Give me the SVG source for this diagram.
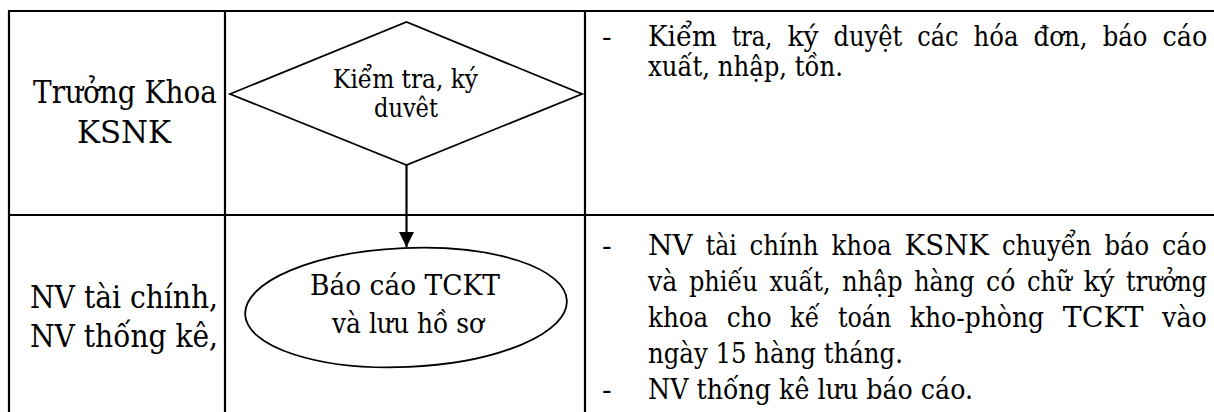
<svg xmlns="http://www.w3.org/2000/svg" width="1214" height="412" viewBox="0 0 1214 412">
<style>
.grid{stroke:#000;stroke-width:2.2;fill:none}
.shape{stroke:#000;stroke-width:1.8;fill:#fff}
text{font-family:'DejaVu Serif','Liberation Serif','Times New Roman',serif;fill:#000}
.lane{font-size:31px}
.node{font-size:26.5px}
.node2{font-size:28.5px}
.desc{font-size:28.5px}
</style>
<defs>
<marker id="arr" markerWidth="16" markerHeight="15" refX="15" refY="7.5" orient="auto" markerUnits="userSpaceOnUse">
<path d="M0,0 L15,7.5 L0,15 Z" fill="#000"/>
</marker>
</defs>
<rect width="1214" height="412" fill="#fff"/>
<g id="table">
<line class="grid" x1="8" y1="11" x2="1214" y2="11"/>
<line class="grid" x1="8" y1="215" x2="1214" y2="215"/>
<line class="grid" x1="9" y1="10" x2="9" y2="412"/>
<line class="grid" x1="225" y1="10" x2="225" y2="412"/>
<line class="grid" x1="585" y1="10" x2="585" y2="412"/>
</g>
<g id="lane1">
<text class="lane" x="125" y="103" text-anchor="middle" textLength="184" lengthAdjust="spacingAndGlyphs">Trưởng Khoa</text>
<text class="lane" x="124" y="143" text-anchor="middle" textLength="94" lengthAdjust="spacingAndGlyphs">KSNK</text>
</g>
<g id="lane2">
<text class="lane" x="30" y="308" textLength="188" lengthAdjust="spacingAndGlyphs">NV tài chính,</text>
<text class="lane" x="30" y="347" textLength="188" lengthAdjust="spacingAndGlyphs">NV thống kê,</text>
</g>
<g id="connectors">
<line x1="406.5" y1="165" x2="406.5" y2="247" stroke="#000" stroke-width="2.2" marker-end="url(#arr)"/>
</g>
<g id="node-kiemtra">
<polygon class="shape" points="230,94 406.5,22 582,94 406.5,165"/>
<text class="node" x="405.5" y="88" text-anchor="middle" textLength="145" lengthAdjust="spacingAndGlyphs">Kiểm tra, ký</text>
<text class="node" x="406" y="117" text-anchor="middle" textLength="64" lengthAdjust="spacingAndGlyphs">duvêt</text>
</g>
<g id="node-baocao">
<ellipse class="shape" cx="406" cy="307.5" rx="161" ry="59.5" transform="rotate(-2.5 406 307.5)"/>
<text class="node2" x="405" y="295" text-anchor="middle" textLength="190" lengthAdjust="spacingAndGlyphs">Báo cáo TCKT</text>
<text class="node2" x="408" y="333" text-anchor="middle" textLength="152" lengthAdjust="spacingAndGlyphs">và lưu hồ sơ</text>
</g>
<g id="desc1">
<text class="desc" x="602" y="46">-</text>
<text class="desc" y="46"><tspan x="648" textLength="68.9" lengthAdjust="spacingAndGlyphs">Kiểm</tspan><tspan x="731.9" textLength="40.5" lengthAdjust="spacingAndGlyphs">tra,</tspan><tspan x="787.4" textLength="31" lengthAdjust="spacingAndGlyphs">ký</tspan><tspan x="833.4" textLength="68.9" lengthAdjust="spacingAndGlyphs">duyệt</tspan><tspan x="917.3" textLength="41.3" lengthAdjust="spacingAndGlyphs">các</tspan><tspan x="973.6" textLength="44.8" lengthAdjust="spacingAndGlyphs">hóa</tspan><tspan x="1033.4" textLength="54.3" lengthAdjust="spacingAndGlyphs">đơn,</tspan><tspan x="1102.7" textLength="44.8" lengthAdjust="spacingAndGlyphs">báo</tspan><tspan x="1162.5" textLength="44.8" lengthAdjust="spacingAndGlyphs">cáo</tspan></text>
<text class="desc" x="648" y="76" textLength="195" lengthAdjust="spacingAndGlyphs">xuất, nhập, tồn.</text>
</g>
<g id="desc2">
<text class="desc" x="602" y="255">-</text>
<text class="desc" y="255"><tspan x="648" textLength="44.8" lengthAdjust="spacingAndGlyphs">NV</tspan><tspan x="705.7" textLength="31" lengthAdjust="spacingAndGlyphs">tài</tspan><tspan x="749.6" textLength="68.9" lengthAdjust="spacingAndGlyphs">chính</tspan><tspan x="831.4" textLength="60.3" lengthAdjust="spacingAndGlyphs">khoa</tspan><tspan x="904.6" textLength="84.4" lengthAdjust="spacingAndGlyphs">KSNK</tspan><tspan x="1001.9" textLength="89.5" lengthAdjust="spacingAndGlyphs">chuyển</tspan><tspan x="1104.4" textLength="44.8" lengthAdjust="spacingAndGlyphs">báo</tspan><tspan x="1162.1" textLength="44.8" lengthAdjust="spacingAndGlyphs">cáo</tspan></text>
<text class="desc" y="291"><tspan x="648" textLength="29.3" lengthAdjust="spacingAndGlyphs">và</tspan><tspan x="688.9" textLength="68.9" lengthAdjust="spacingAndGlyphs">phiếu</tspan><tspan x="769.5" textLength="61.1" lengthAdjust="spacingAndGlyphs">xuất,</tspan><tspan x="842.2" textLength="60.3" lengthAdjust="spacingAndGlyphs">nhập</tspan><tspan x="914.2" textLength="60.3" lengthAdjust="spacingAndGlyphs">hàng</tspan><tspan x="986.1" textLength="29.3" lengthAdjust="spacingAndGlyphs">có</tspan><tspan x="1027" textLength="44.8" lengthAdjust="spacingAndGlyphs">chữ</tspan><tspan x="1083.5" textLength="31" lengthAdjust="spacingAndGlyphs">ký</tspan><tspan x="1126.1" textLength="80.9" lengthAdjust="spacingAndGlyphs">trưởng</tspan></text>
<text class="desc" y="327"><tspan x="648" textLength="60.3" lengthAdjust="spacingAndGlyphs">khoa</tspan><tspan x="726.8" textLength="44.8" lengthAdjust="spacingAndGlyphs">cho</tspan><tspan x="790.1" textLength="29.3" lengthAdjust="spacingAndGlyphs">kế</tspan><tspan x="837.9" textLength="53.4" lengthAdjust="spacingAndGlyphs">toán</tspan><tspan x="909.8" textLength="134.3" lengthAdjust="spacingAndGlyphs">kho-phòng</tspan><tspan x="1062.7" textLength="80.9" lengthAdjust="spacingAndGlyphs">TCKT</tspan><tspan x="1162.1" textLength="44.8" lengthAdjust="spacingAndGlyphs">vào</tspan></text>
<text class="desc" x="648" y="363" textLength="255" lengthAdjust="spacingAndGlyphs">ngày 15 hàng tháng.</text>
<text class="desc" x="602" y="399">-</text>
<text class="desc" x="648" y="399" textLength="325" lengthAdjust="spacingAndGlyphs">NV thống kê lưu báo cáo.</text>
</g>
</svg>
